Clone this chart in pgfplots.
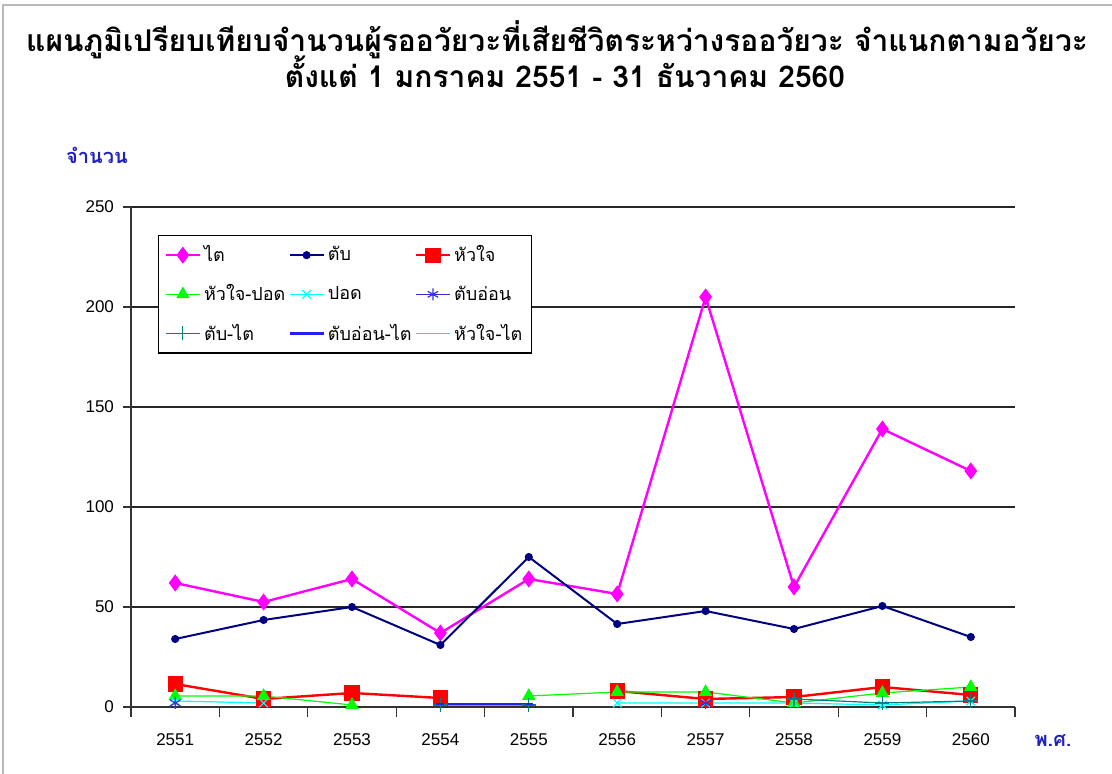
\documentclass[border=0pt]{standalone}
\usepackage{pgfplots}
\pgfplotsset{compat=1.18}
\usepackage{fontspec}
\setmainfont{Liberation Sans}
\newfontfamily\thai[Script=Thai]{Loma}
\definecolor{kidney}{HTML}{FF00FF}
\definecolor{liver}{HTML}{000080}
\definecolor{heart}{HTML}{FF0000}
\definecolor{hl}{HTML}{00FF00}
\definecolor{lung}{HTML}{00FFFF}
\definecolor{panc}{HTML}{3333DD}
\definecolor{lk}{HTML}{008080}
\definecolor{pk}{HTML}{2222EE}
\definecolor{hk}{HTML}{33CCFF}
\definecolor{lab}{HTML}{2020C0}
\begin{document}
\begin{tikzpicture}
\useasboundingbox (0,0) rectangle (556pt,387pt);
\draw[gray!55, line width=1pt] (1.5pt,0) -- (1.5pt,384.5pt) -- (556pt,384.5pt);
\node[font=\thai\bfseries\fontsize{15}{18}\selectfont] at (278.5pt,367pt) {แผนภูมิเปรียบเทียบจำนวนผู้รออวัยวะที่เสียชีวิตระหว่างรออวัยวะ จำแนกตามอวัยวะ};
\node[font=\thai\bfseries\fontsize{15}{18}\selectfont] at (282.5pt,351pt) {ตั้งแต่ 1 มกราคม 2551 - 31 ธันวาคม 2560};
\node[font=\thai\bfseries\fontsize{10}{12}\selectfont, text=lab] at (48.5pt,309.5pt) {จำนวน};
\node[font=\thai\bfseries\fontsize{10}{12}\selectfont, text=lab] at (526.5pt,16.5pt) {พ.ศ.};
\begin{axis}[
  at={(65.5pt,33.5pt)}, anchor=south west,
  width=442pt, height=250pt, scale only axis,
  xmin=-0.5, xmax=9.5, ymin=0, ymax=250,
  axis x line=bottom, axis y line=left,
  axis line style={-, black!80, line width=0.6pt},
  xtick={0,...,9},
  xticklabels={2551,2552,2553,2554,2555,2556,2557,2558,2559,2560},
  minor xtick={-0.5,0.5,...,9.5},
  major x tick style={draw=none},
  minor x tick style={black!80, line width=0.6pt},
  minor tick length=5pt,
  ytick={0,50,...,250},
  major tick length=4pt,
  y tick style={black!80, line width=0.6pt},
  tick align=outside,
  ymajorgrids, grid style={black!85, line width=0.6pt},
  /pgf/number format/assume math mode=true,
  ticklabel style={font=\fontsize{8.5}{10}\selectfont},
  xticklabel style={yshift=-6pt},
  yticklabel style={xshift=-1pt},
  unbounded coords=jump,
  legend columns=3,
  legend style={at={(0.0305,0.944)}, anchor=north west, draw=black, line width=0.6pt,
    font=\thai\fontsize{9}{11}\selectfont, row sep=6pt, inner sep=3pt,
    nodes={inner xsep=1.5pt},
    /tikz/every even column/.append style={column sep=0pt}},
  legend cell align=left,
]
\addplot[kidney, line width=1.2pt, mark=diamond*, mark size=3.3pt] coordinates {
(0,62) (1,52.5) (2,64) (3,37) (4,64) (5,56.5) (6,205) (7,60) (8,139) (9,118)};
\addlegendentry{ไต}
\addplot[liver, line width=1pt, mark=*, mark size=1.5pt] coordinates {
(0,34) (1,43.5) (2,50) (3,31) (4,75) (5,41.5) (6,48) (7,39) (8,50.5) (9,35)};
\addlegendentry{ตับ}
\addplot[heart, line width=1.2pt, mark=square*, mark size=3.2pt] coordinates {
(0,11.5) (1,4) (2,7) (3,4.5) (4,nan) (5,8) (6,4) (7,5) (8,10) (9,6)};
\addlegendentry{หัวใจ}
\addplot[hl, line width=0.6pt, mark=triangle*, mark size=3.3pt] coordinates {
(0,5.5) (1,5.5) (2,1) (3,nan) (4,5.5) (5,7.5) (6,7.5) (7,2) (8,7) (9,10)};
\addlegendentry{หัวใจ-ปอด}
\addplot[lung, line width=0.6pt, mark=x, mark size=3pt] coordinates {
(0,3) (1,2) (2,nan) (3,nan) (4,nan) (5,2) (6,2) (7,2) (8,1) (9,3)};
\addlegendentry{ปอด}
\addplot[panc, line width=0.6pt, mark=asterisk, mark size=3pt] coordinates {
(0,2) (1,nan) (2,nan) (3,nan) (4,nan) (5,nan) (6,2)};
\addlegendentry{ตับอ่อน}
\addplot[lk, line width=0.6pt, mark=+, mark size=3.5pt] coordinates {
(3,1) (4,1) (5,nan) (6,nan) (7,4) (8,2) (9,3)};
\addlegendentry{ตับ-ไต}
\addplot[pk, line width=1.2pt, mark=-, mark size=2pt] coordinates {
(3,1.5) (4,1.5)};
\addlegendentry{ตับอ่อน-ไต}
\addlegendimage{hk, line width=0.6pt, mark=-, mark size=2pt}
\addlegendentry{หัวใจ-ไต}
\end{axis}
\end{tikzpicture}
\end{document}
